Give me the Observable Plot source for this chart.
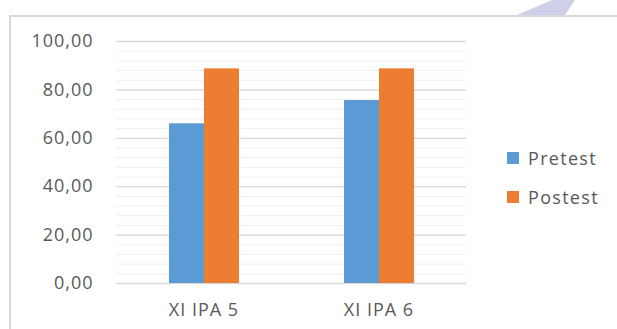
<!DOCTYPE html>
<html>
<head>
<meta charset="utf-8">
<script src="https://cdn.jsdelivr.net/npm/d3@7"></script>
<script src="https://cdn.jsdelivr.net/npm/@observablehq/plot@0.6"></script>
<style>
  html, body { margin: 0; padding: 0; background: #fff; }
  #wrap { position: relative; width: 617px; height: 329px; overflow: hidden; background: #fff; }
  #mark { position: absolute; left: 500px; top: 0; width: 90px; height: 15px; background: #cdd0e8;
          clip-path: polygon(17px 15px, 52px 0, 75px 0, 65px 15px); }
  #frame { position: absolute; left: 9px; top: 15px; width: 700px; height: 400px; border: 2px solid #d9d9d9; box-sizing: border-box; }
  #chart { position: absolute; left: 0; top: 0; }
  #legend { position: absolute; left: 507px; top: 146px; font-family: "Open Sans", sans-serif; font-size: 18px; color: #595959; letter-spacing: 1.3px; }
  .item { display: flex; align-items: center; height: 23px; margin-bottom: 16px; }
  .sw { width: 12px; height: 12px; margin-right: 9px; }
</style>
</head>
<body>
<div id="wrap">
  <div id="mark"></div>
  <div id="frame"></div>
  <div id="chart"></div>
  <div id="legend"></div>
</div>
<script>
const categories = ["XI IPA 5", "XI IPA 6"];
const seriesNames = ["Pretest", "Postest"];
const pretest = [66.0, 75.6];
const postest = [88.7, 88.7];
const colors = ["#5b9bd5", "#ed7d31"];
const majorTicks = [0, 20, 40, 60, 80, 100];
const minorTicks = d3.range(0, 101, 4);

const table = [];
categories.forEach((c, i) => {
  table.push({cat: c, series: seriesNames[0], value: pretest[i]});
  table.push({cat: c, series: seriesNames[1], value: postest[i]});
});

const fmt = d => d.toFixed(2).replace(".", ",");

const plot = Plot.plot({
  width: 617,
  height: 329,
  marginLeft: 116,
  marginRight: 151,
  marginTop: 41,
  marginBottom: 46,
  style: {fontFamily: "Open Sans, sans-serif", fontSize: "18px", color: "#595959", background: "transparent", letterSpacing: "1px"},
  fx: {domain: categories, padding: 0, axis: "bottom", tickSize: 0, tickPadding: 20, label: null},
  x: {domain: seriesNames, paddingInner: 0, paddingOuter: 1.5, axis: null},
  y: {domain: [0, 100], ticks: majorTicks, tickFormat: fmt, tickSize: 0, tickPadding: 23, label: null},
  color: {domain: seriesNames, range: colors},
  marks: [
    Plot.ruleY(minorTicks, {stroke: "#efefef", strokeWidth: 1}),
    Plot.ruleY(majorTicks, {stroke: "#d9d9d9", strokeWidth: 1.3}),
    Plot.barY(table, {fx: "cat", x: "series", y: "value", fill: "series"})
  ]
});
document.getElementById("chart").appendChild(plot);

const legend = document.getElementById("legend");
seriesNames.forEach((s, i) => {
  const item = document.createElement("div");
  item.className = "item";
  const sw = document.createElement("div");
  sw.className = "sw";
  sw.style.background = colors[i];
  const t = document.createElement("span");
  t.textContent = s;
  item.appendChild(sw);
  item.appendChild(t);
  legend.appendChild(item);
});
</script>
</body>
</html>
